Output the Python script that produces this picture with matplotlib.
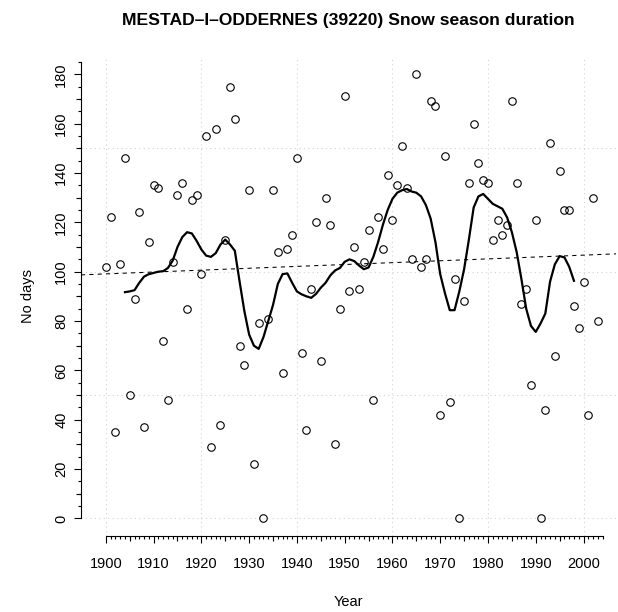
import numpy as np
import matplotlib
matplotlib.use("Agg")
import matplotlib.pyplot as plt

plt.rcParams["font.family"] = ["Liberation Sans", "DejaVu Sans"]

# 観測値 (年, 積雪期間の日数)
years = list(range(1900, 2004))
days = [102, 122, 35, 103, 146, 50, 89, 124, 37, 112,
        135, 134, 72, 48, 104, 131, 136, 85, 129, 131,
        99, 155, 29, 158, 38, 113, 175, 162, 70, 62,
        133, 22, 79, 0, 81, 133, 108, 59, 109, 115,
        146, 67, 36, 93, 120, 64, 130, 119, 30, 85,
        171, 92, 110, 93, 104, 117, 48, 122, 109, 139,
        121, 135, 151, 134, 105, 180, 102, 105, 169, 167,
        42, 147, 47, 97, 0, 88, 136, 160, 144, 137,
        136, 113, 121, 115, 119, 169, 136, 87, 93, 54,
        121, 0, 44, 152, 66, 141, 125, 125, 86, 77,
        96, 42, 130, 80]

# 平滑化曲線 (1904-1998)
smooth_years = list(range(1904, 1999))
smooth_days = [91.7, 92.0, 92.5, 95.5, 98.0, 99.0, 99.5, 100.0, 100.2, 101.5,
               104.5, 110.0, 114.0, 116.0, 115.5, 112.5, 109.0, 106.5, 106.0, 107.5,
               111.0, 113.0, 111.0, 108.5, 96.0, 84.0, 74.5, 70.0, 68.7, 73.5,
               80.0, 86.5, 95.0, 99.0, 99.3, 95.5, 92.0, 90.8, 90.0, 89.4,
               91.0, 93.5, 95.5, 98.5, 100.5, 101.5, 104.0, 105.0, 104.3, 102.5,
               101.0, 101.7, 106.0, 112.0, 119.0, 125.0, 129.5, 132.0, 133.0, 133.5,
               132.5, 132.0, 130.5, 127.0, 121.5, 112.0, 99.0, 91.2, 84.4, 84.4,
               92.0, 101.0, 113.0, 126.0, 130.5, 131.5, 129.5, 127.5, 126.5, 125.5,
               122.0, 116.0, 108.0, 97.0, 85.0, 78.0, 75.6, 79.0, 83.0, 96.0,
               103.0, 106.3, 105.8, 102.0, 96.3]

# 線形トレンド
trend_years = [1900, 2000]
trend_days = [99.1, 106.7]

grid_x = [1900, 1920, 1940, 1960, 1980, 2000]
grid_y = [0, 50, 100, 150]

fig = plt.figure(figsize=(6.18, 6.12), dpi=100)
ax = fig.add_axes([81 / 618, 1 - 536.2 / 612, 535 / 618, 479.7 / 612])

for gx in grid_x:
    ax.axvline(gx, color="#d3d3d3", lw=0.8, ls=(0, (1, 3)), zorder=0)
for gy in grid_y:
    ax.axhline(gy, color="#d3d3d3", lw=0.8, ls=(0, (1, 3)), zorder=0)

ax.plot(years, days, "o", mfc="none", mec="black", ms=5.4, mew=0.8, zorder=3)
ax.plot(smooth_years, smooth_days, color="black", lw=1.6, zorder=2)
ax.axline((trend_years[0], trend_days[0]), (trend_years[1], trend_days[1]),
          color="black", lw=0.75, ls=(0, (4, 4)), zorder=1)

ax.set_xlim(1894.8, 2006.8)
ax.set_ylim(-7.2, 187.2)

for s in ["top", "right"]:
    ax.spines[s].set_visible(False)
ax.spines["bottom"].set_bounds(1900, 2004)
ax.spines["left"].set_bounds(0, 185)
ax.spines["bottom"].set_linewidth(0.8)
ax.spines["left"].set_linewidth(0.8)

ax.set_xticks(range(1900, 2001, 10))
ax.set_xticks(range(1900, 2005), minor=True)
ax.set_yticks(range(0, 181, 20))
ax.set_yticks(range(0, 186, 5), minor=True)
ax.set_yticklabels([str(v) for v in range(0, 181, 20)], rotation=90, va="center")
ax.tick_params(axis="both", which="major", length=5.2, width=0.8, labelsize=10.5)
ax.tick_params(axis="x", which="major", pad=10)
ax.tick_params(axis="y", which="major", pad=4)
ax.tick_params(axis="both", which="minor", length=2.2, width=0.8)

sec_x = ax.secondary_xaxis("bottom")
sec_x.set_xticks(range(1905, 2005, 10))
sec_x.tick_params(length=3.6, width=0.8, labelbottom=False)
sec_x.spines["bottom"].set_visible(False)

sec_y = ax.secondary_yaxis("left")
sec_y.set_yticks(range(10, 186, 20))
sec_y.tick_params(length=3.6, width=0.8, labelleft=False)
sec_y.spines["left"].set_visible(False)

fig.text(348 / 618, 1 - 602 / 612, "Year", ha="center", va="center", fontsize=10.5)
fig.text(28 / 618, 1 - 296 / 612, "No days", ha="center", va="center",
         rotation=90, fontsize=10.5)
fig.text(348 / 618, 1 - 20 / 612, "MESTAD\u2013I\u2013ODDERNES (39220) Snow season duration",
         ha="center", va="center", fontsize=12.6, fontweight="bold")

fig.savefig("out.png", dpi=100)
